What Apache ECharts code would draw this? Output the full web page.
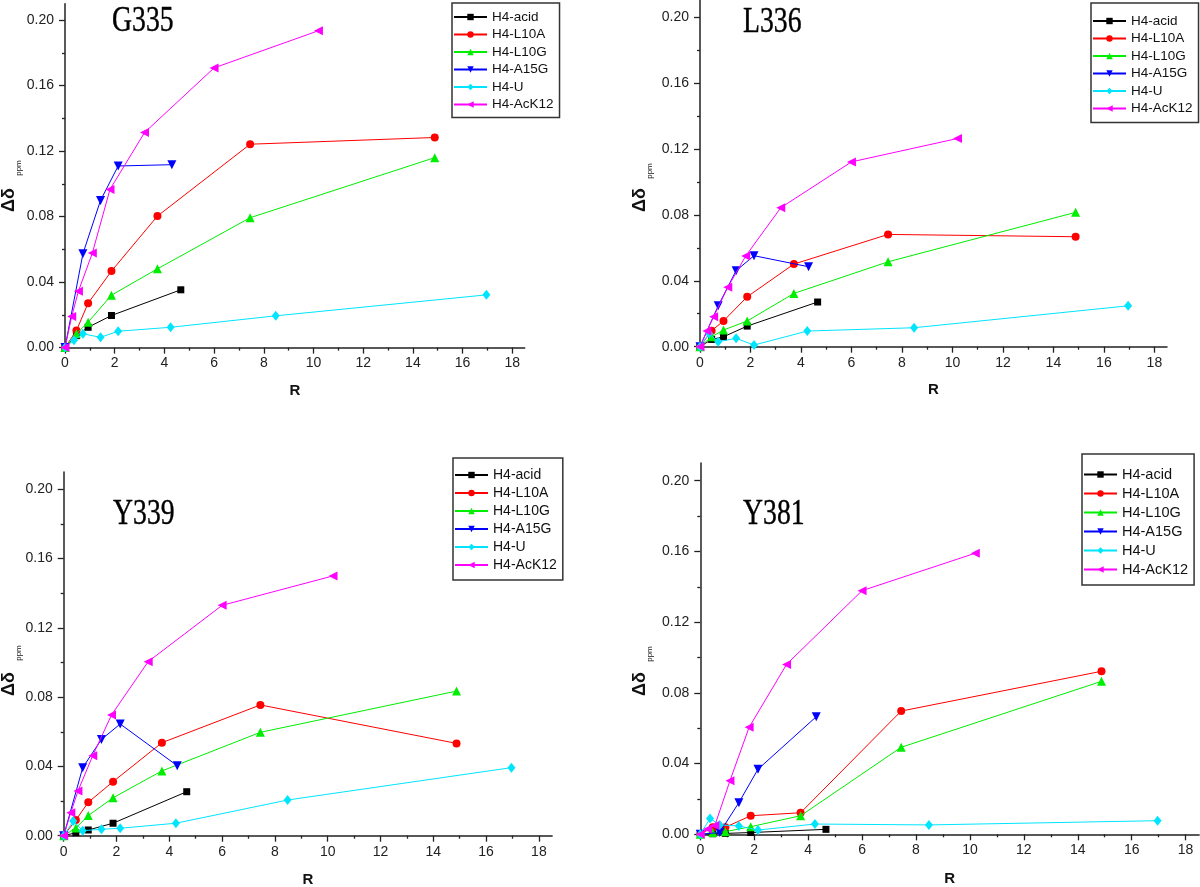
<!DOCTYPE html>
<html><head><meta charset="utf-8">
<script src="https://cdn.jsdelivr.net/npm/echarts@6/dist/echarts.min.js"></script>
<style>html,body{margin:0;padding:0;background:#fff}#c{width:1200px;height:887px}</style>
</head><body><div id="c"></div><script>
// ---- data ----
const PANEL_TITLES = ['G335', 'L336', 'Y339', 'Y381'];
const SERIES_NAMES = ['H4-acid', 'H4-L10A', 'H4-L10G', 'H4-A15G', 'H4-U', 'H4-AcK12'];

// R (x) values per series
const R_ACID  = [0, 0.46, 0.93, 1.87, 4.66];
const R_L10   = [0, 0.46, 0.93, 1.87, 3.72, 7.45, 14.88];
const R_A15G  = [0, 0.72, 1.43, 2.14, 4.30];
const R_U     = [0, 0.36, 0.72, 1.43, 2.14, 4.25, 8.48, 16.96];
const R_ACK12 = [0, 0.27, 0.54, 1.10, 1.81, 3.20, 6.00, 10.20];

// G335
const G335_ACID  = [0, 0.0073, 0.0124, 0.0196, 0.0353];
const G335_L10A  = [0, 0.0104, 0.0271, 0.0467, 0.0803, 0.1242, 0.1283];
const G335_L10G  = [0, 0.0085, 0.0155, 0.0320, 0.0481, 0.0793, 0.1160];
const G335_A15G  = [0, 0.0573, 0.0899, 0.1109, 0.1117];
const G335_U     = [0, 0.0045, 0.0084, 0.0063, 0.0100, 0.0124, 0.0194, 0.0322];
const G335_ACK12 = [0, 0.0190, 0.0344, 0.0577, 0.0966, 0.1313, 0.1708, 0.1935];
// L336
const L336_ACID  = [0, 0.0044, 0.0060, 0.0125, 0.0271];
const L336_L10A  = [0, 0.0097, 0.0156, 0.0303, 0.0501, 0.0681, 0.0667];
const L336_L10G  = [0, 0.0060, 0.0101, 0.0156, 0.0323, 0.0515, 0.0815];
const L336_A15G  = [0, 0.0248, 0.0461, 0.0552, 0.0485];
const L336_U     = [0, 0.0080, 0.0030, 0.0051, 0.0010, 0.0095, 0.0115, 0.0248];
const L336_ACK12 = [0, 0.0095, 0.0182, 0.0360, 0.0550, 0.0843, 0.1121, 0.1263];
// Y339
const Y339_ACID  = [0, 0.0017, 0.0033, 0.0072, 0.0254];
const Y339_L10A  = [0, 0.0090, 0.0193, 0.0312, 0.0537, 0.0755, 0.0533];
const Y339_L10G  = [0, 0.0045, 0.0116, 0.0219, 0.0374, 0.0597, 0.0835];
const Y339_A15G  = [0, 0.0393, 0.0556, 0.0645, 0.0404];
const Y339_U     = [0, 0.0085, 0.0029, 0.0037, 0.0043, 0.0072, 0.0206, 0.0393];
const Y339_ACK12 = [0, 0.0133, 0.0258, 0.0462, 0.0697, 0.1005, 0.1330, 0.1500];
// Y381
const Y381_ACID  = [0, 0.0003, 0.0005, 0.0010, 0.0028];
const Y381_L10A  = [0, 0.0040, 0.0040, 0.0105, 0.0122, 0.0697, 0.0922];
const Y381_L10G  = [0, 0.0010, 0.0015, 0.0043, 0.0105, 0.0492, 0.0865];
const Y381_A15G  = [0, 0.0010, 0.0179, 0.0368, 0.0665];
const Y381_U     = [0, 0.0090, 0.0053, 0.0047, 0.0024, 0.0058, 0.0053, 0.0077];
const Y381_ACK12 = [0, 0.0030, 0.0050, 0.0303, 0.0605, 0.0961, 0.1378, 0.1590];

// tick values / labels
const X_TICKS = [0, 2, 4, 6, 8, 10, 12, 14, 16, 18];
const X_MINOR_TICKS = [1, 3, 5, 7, 9, 11, 13, 15, 17];
const Y_TICKS = [0, 0.04, 0.08, 0.12, 0.16, 0.20];
const Y_MINOR_TICKS = [0.02, 0.06, 0.10, 0.14, 0.18];

// ---- assembly ----
const R_VALUES = [R_ACID, R_L10, R_L10, R_A15G, R_U, R_ACK12];
const PANEL_VALUES = [
  [G335_ACID, G335_L10A, G335_L10G, G335_A15G, G335_U, G335_ACK12],
  [L336_ACID, L336_L10A, L336_L10G, L336_A15G, L336_U, L336_ACK12],
  [Y339_ACID, Y339_L10A, Y339_L10G, Y339_A15G, Y339_U, Y339_ACK12],
  [Y381_ACID, Y381_L10A, Y381_L10G, Y381_A15G, Y381_U, Y381_ACK12]
];

const FONT = "'Liberation Sans', Arial, sans-serif";
const COLORS = ['#000000', '#ff0000', '#00ee00', '#0000ff', '#00e5ff', '#ff00ff'];
const SYMBOLS = ['rect', 'circle', 'triangle', 'triangle', 'diamond', 'triangle'];
const SYMBOL_ROT = [0, 0, 0, 180, 0, 90];
const SYMBOL_SIZE = [7, 8, 9, 9, [8, 10], 9];

const GRIDS = [
  {left: 65, top: 3.7, width: 459.7, height: 343.9},
  {left: 700, top: 0.5, width: 467, height: 346.2},
  {left: 63.7, top: 472, width: 488.4, height: 363.7},
  {left: 700.3, top: 463, width: 498.8, height: 371.3}
];
const LEGENDS = [
  {left: 452, top: 3, fontSize: 13.5, gap: 3.5, padding: [7, 6, 6, 1]},
  {left: 1091, top: 3, fontSize: 13.5, gap: 3.5, padding: [11, 6, 7, 1]},
  {left: 453, top: 458, fontSize: 14, gap: 4, padding: [10, 6, 8, 1]},
  {left: 1082, top: 454, fontSize: 14.5, gap: 4, padding: [13, 6, 8, 1]}
];
const TITLE_POS = [[112, 22], [743, 23], [113, 515], [743, 515]];
const YNAME_POS = [[9, 200, 19, 168], [640, 200, 650, 171], [9, 684, 19, 653], [640, 684, 650, 654]];

const grid = [], xAxis = [], yAxis = [], series = [], legend = [], graphic = [];
const axisLineStyle = {color: '#222', width: 1.5};
const hiddenLineStyle = {color: 'rgba(0,0,0,0)', width: 0};
const tickStyle = {color: '#222', width: 1.3};

PANEL_TITLES.forEach((title, i) => {
  grid.push(Object.assign({containLabel: false, outerBoundsMode: 'none'}, GRIDS[i]));
  xAxis.push({
    type: 'value', gridIndex: i, min: 0, max: 18.5, position: 'bottom',
    axisLine: {show: true, onZero: false, lineStyle: axisLineStyle},
    axisTick: {show: true, length: 6, customValues: X_TICKS, lineStyle: tickStyle},
    axisLabel: {show: true, customValues: X_TICKS, margin: 9, fontSize: 14, color: '#222', fontFamily: FONT},
    splitLine: {show: false},
    name: 'R', nameLocation: 'middle', nameGap: i < 2 ? 36 : 37,
    nameTextStyle: {fontWeight: 'bold', fontSize: 15, color: '#111', fontFamily: FONT}
  });
  xAxis.push({
    type: 'value', gridIndex: i, min: 0, max: 18.5, position: 'bottom',
    axisLine: {show: true, onZero: false, lineStyle: hiddenLineStyle},
    axisTick: {show: true, length: 3, customValues: X_MINOR_TICKS, lineStyle: tickStyle},
    axisLabel: {show: false}, splitLine: {show: false}
  });
  yAxis.push({
    type: 'value', gridIndex: i, min: 0, max: 0.21, position: 'left',
    axisLine: {show: true, onZero: false, lineStyle: axisLineStyle},
    axisTick: {show: true, length: 6, customValues: Y_TICKS, lineStyle: tickStyle},
    axisLabel: {show: true, customValues: Y_TICKS, margin: 11, fontSize: 14, color: '#222', fontFamily: FONT,
      formatter: v => Number(v).toFixed(2)},
    splitLine: {show: false}
  });
  yAxis.push({
    type: 'value', gridIndex: i, min: 0, max: 0.21, position: 'left',
    axisLine: {show: true, onZero: false, lineStyle: hiddenLineStyle},
    axisTick: {show: true, length: 3, customValues: Y_MINOR_TICKS, lineStyle: tickStyle},
    axisLabel: {show: false}, splitLine: {show: false}
  });
  SERIES_NAMES.forEach((name, s) => {
    const ys = PANEL_VALUES[i][s];
    series.push({
      type: 'line', name: name, xAxisIndex: 2 * i, yAxisIndex: 2 * i,
      data: R_VALUES[s].map((r, j) => [r, ys[j]]),
      symbol: SYMBOLS[s], symbolRotate: SYMBOL_ROT[s], symbolSize: SYMBOL_SIZE[s],
      showAllSymbol: true,
      lineStyle: {color: COLORS[s], width: 1},
      itemStyle: {color: COLORS[s]},
      emphasis: {disabled: true}, clip: false, z: 2 + s
    });
  });
  const L = LEGENDS[i];
  legend.push({
    orient: 'vertical', left: L.left, top: L.top, padding: L.padding,
    itemWidth: 33, itemHeight: 8, itemGap: L.gap,
    borderColor: '#333', borderWidth: 1.5, backgroundColor: '#fff',
    textStyle: {fontSize: L.fontSize, color: '#111', fontFamily: FONT},
    data: SERIES_NAMES.slice()
  });
  graphic.push({
    type: 'text', x: TITLE_POS[i][0], y: TITLE_POS[i][1], scaleX: 0.77, z: 10,
    style: {text: title, fontFamily: "'Liberation Serif', 'Times New Roman', serif", fontSize: 36,
      fill: '#000', stroke: '#000', lineWidth: 0.4, textAlign: 'left', textVerticalAlign: 'middle'}
  });
  const P = YNAME_POS[i];
  graphic.push({
    type: 'text', x: P[0], y: P[1], rotation: Math.PI / 2, z: 10,
    style: {text: 'Δδ', fontFamily: FONT, fontWeight: 'bold', fontSize: 18, fill: '#111',
      textAlign: 'center', textVerticalAlign: 'middle'}
  });
  graphic.push({
    type: 'text', x: P[2], y: P[3], rotation: Math.PI / 2, z: 10,
    style: {text: 'ppm', fontFamily: FONT, fontSize: 8, fill: '#111',
      textAlign: 'center', textVerticalAlign: 'middle'}
  });
});

const chart = echarts.init(document.getElementById('c'), null, {renderer: 'canvas'});
chart.setOption({
  animation: false,
  backgroundColor: '#fff',
  grid, xAxis, yAxis, series, legend, graphic
});
</script></body></html>
